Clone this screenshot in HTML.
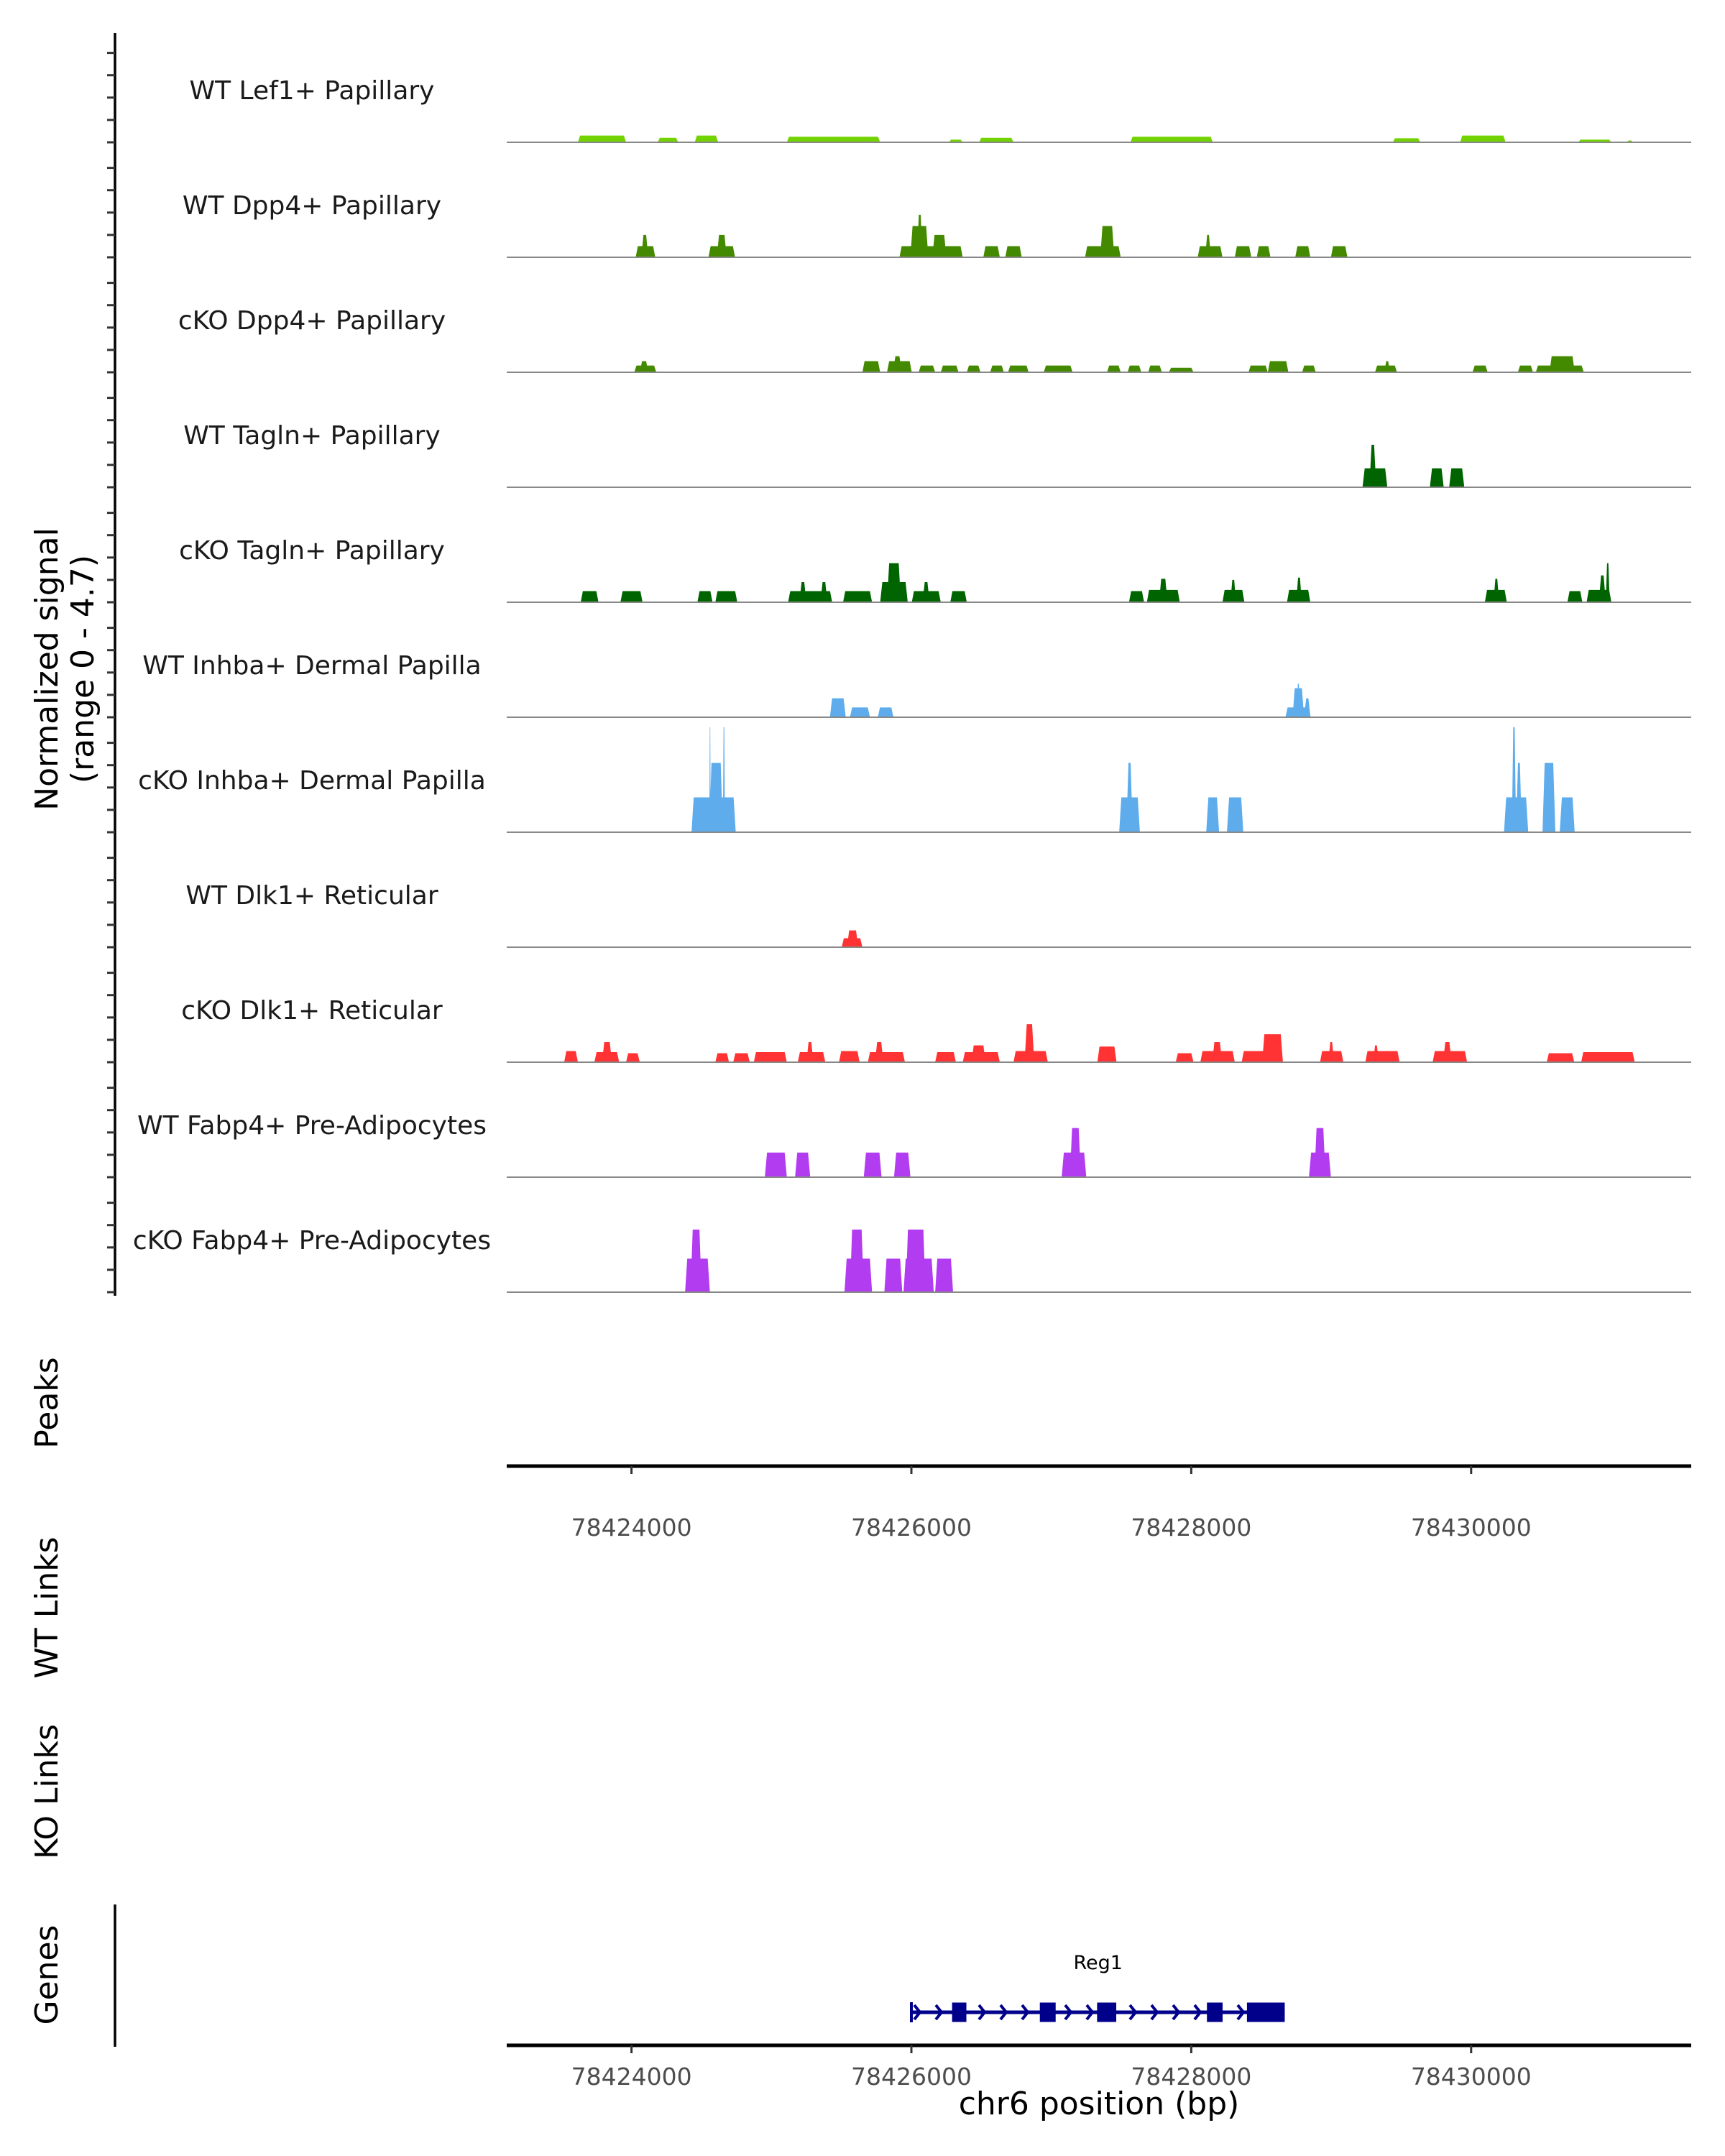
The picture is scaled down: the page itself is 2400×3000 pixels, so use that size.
<!DOCTYPE html>
<html><head><meta charset="utf-8">
<style>
html,body{margin:0;padding:0;background:#fff;}
svg{display:block;font-family:"DejaVu Sans","Liberation Sans",sans-serif;}
</style></head>
<body>
<svg id="chart" width="2400" height="3000" viewBox="0 0 2400 3000" xmlns="http://www.w3.org/2000/svg">
<g id="axes"></g>
<g id="tracks"></g>
<g id="genes"></g>
</svg>
<script>
// ---- data ----
const trackNames = ["WT Lef1+ Papillary","WT Dpp4+ Papillary","cKO Dpp4+ Papillary","WT Tagln+ Papillary","cKO Tagln+ Papillary","WT Inhba+ Dermal Papilla","cKO Inhba+ Dermal Papilla","WT Dlk1+ Reticular","cKO Dlk1+ Reticular","WT Fabp4+ Pre-Adipocytes","cKO Fabp4+ Pre-Adipocytes"];
const trackColors = ["#72d300","#448a00","#448a00","#006400","#006400","#5eacec","#5eacec","#ff3333","#ff3333","#b23cf0","#b23cf0"];
const wtLef1 = [[78423617,78423961,.3],[78424187,78424334,.2],[78424452,78424619,.3],[78425110,78425777,.25],[78426268,78426367,.12],[78426484,78426730,.2],[78427565,78428154,.25],[78429440,78429637,.18],[78429921,78430246,.3],[78430766,78431002,.12],[78431110,78431159,.08]];
const wtDpp4 = [[78424030,78424170,.5],[78424070,78424120,1.0],[78424550,78424740,.5],[78424610,78424680,1.0],[78425915,78426367,.5],[78425993,78426121,1.4],[78426040,78426080,1.9],[78426150,78426250,1.0],[78426514,78426632,.5],[78426671,78426789,.5],[78427241,78427496,.5],[78427350,78427450,1.4],[78428046,78428223,.5],[78428100,78428140,1.0],[78428311,78428429,.5],[78428468,78428566,.5],[78428743,78428851,.5],[78428998,78429116,.5]];
const ckoDpp4 = [[78424020,78424177,.3],[78424060,78424120,.5],[78425650,78425777,.5],[78425826,78426003,.5],[78425870,78425930,.72],[78426052,78426170,.3],[78426210,78426337,.3],[78426396,78426494,.3],[78426563,78426661,.3],[78426691,78426838,.3],[78426946,78427152,.3],[78427398,78427496,.3],[78427545,78427643,.3],[78427692,78427790,.3],[78427840,78428016,.2],[78428409,78428547,.3],[78428547,78428694,.5],[78428792,78428890,.3],[78429313,78429470,.3],[78429380,78429420,.5],[78430010,78430118,.3],[78430334,78430442,.3],[78430462,78430805,.3],[78430560,78430740,.72]];
const wtTagln = [[78429224,78429401,.85],[78429273,78429322,1.9],[78429705,78429804,.85],[78429843,78429951,.85]];
const ckoTagln = [[78423637,78423764,.5],[78423921,78424079,.5],[78424471,78424579,.5],[78424599,78424756,.5],[78425119,78425434,.5],[78425200,78425250,.9],[78425350,78425400,.9],[78425512,78425719,.5],[78425777,78425974,.9],[78425826,78425925,1.75],[78426003,78426210,.5],[78426080,78426130,.9],[78426278,78426396,.5],[78427555,78427663,.5],[78427683,78427918,.55],[78427770,78427830,1.05],[78428223,78428380,.55],[78428280,78428320,1.0],[78428684,78428851,.55],[78428750,78428790,1.1],[78430098,78430255,.55],[78430160,78430200,1.05],[78430688,78430795,.5],[78430825,78431002,.55],[78430913,78430962,1.2],[78430962,78430990,1.75]];
const wtInhba = [[78425418,78425531,.85],[78425561,78425704,.44],[78425760,78425872,.44],[78428673,78428852,.44],[78428724,78428806,1.3],[78428755,78428775,1.5],[78428806,78428852,.85]];
const ckoInhba = [[78424429,78424745,1.56],[78424556,78424653,3.1],[78424556,78424566,4.7],[78424653,78424668,4.7],[78427485,78427633,1.56],[78427536,78427582,3.1],[78428107,78428199,1.56],[78428255,78428372,1.56],[78430235,78430408,1.56],[78430291,78430321,4.7],[78430321,78430362,3.1],[78430510,78430602,3.1],[78430633,78430740,1.56]];
const wtDlk1 = [[78425502,78425650,.4],[78425540,78425620,.75]];
const ckoDlk1 = [[78423519,78423617,.5],[78423735,78423912,.45],[78423790,78423860,.9],[78423961,78424059,.4],[78424599,78424697,.4],[78424727,78424845,.4],[78424874,78425110,.45],[78425188,78425385,.45],[78425250,78425300,.9],[78425483,78425630,.5],[78425689,78425954,.45],[78425740,78425800,.9],[78426170,78426318,.45],[78426367,78426632,.45],[78426430,78426530,.75],[78426730,78426975,.5],[78426809,78426878,1.7],[78427329,78427466,.7],[78427889,78428016,.4],[78428065,78428311,.5],[78428150,78428220,.9],[78428360,78428655,.5],[78428507,78428655,1.25],[78428920,78429087,.5],[78428980,78429020,.9],[78429244,78429489,.5],[78429300,78429340,.75],[78429725,78429971,.5],[78429800,78429860,.9],[78430540,78430737,.4],[78430786,78431169,.45]];
const wtFabp4 = [[78424953,78425110,1.1],[78425169,78425277,1.1],[78425660,78425787,1.1],[78425876,78425993,1.1],[78427074,78427250,1.1],[78427133,78427211,2.2],[78428841,78428998,1.1],[78428880,78428959,2.2]];
const ckoFabp4 = [[78424383,78424560,1.5],[78424422,78424501,2.8],[78425522,78425719,1.5],[78425561,78425660,2.8],[78425807,78425935,1.5],[78425944,78426160,1.5],[78425960,78426101,2.8],[78426170,78426298,1.5]];
const trackData = [wtLef1,wtDpp4,ckoDpp4,wtTagln,ckoTagln,wtInhba,ckoInhba,wtDlk1,ckoDlk1,wtFabp4,ckoFabp4];
const xTicks = [78424000,78426000,78428000,78430000];
const geneName = "Reg1";
const geneStart = 78426000, geneEnd = 78428668;
const exonStarts = [78426291,78426918,78427327,78428112,78428398];
const exonEnds   = [78426393,78427031,78427464,78428224,78428668];

// ---- scales ----
const X0 = 705, X1 = 2353;
function xScale(v){ return 1268 + (v - 78426000) * 0.1947; }
function baseY(i){ return 198 + i * 160; }
function yScale(i, v){ return baseY(i) - v * 31.1; }

const NS = "http://www.w3.org/2000/svg";
function mk(tag, attrs, parent){ const e = document.createElementNS(NS, tag); for (const k in attrs) e.setAttribute(k, attrs[k]); parent.appendChild(e); return e; }
const axes = document.getElementById('axes');
const tracks = document.getElementById('tracks');
const genes = document.getElementById('genes');

let l = mk('line', {x1:160,y1:46,x2:160,y2:1803,stroke:'#000','stroke-width':3.5}, axes);


for (let i = 0; i < 11; i++) {
  for (let k = 0; k < 5; k++) {
    const y = yScale(i, k);
    const t = mk('line', {x1:149,y1:y,x2:160,y2:y,stroke:'#333','stroke-width':3}, axes);
    
    
  }
}
function rotText(txt, x, y, name, size){
  const t = mk('text', {x:x,y:y,'font-size':size||44,'text-anchor':'middle',transform:`rotate(-90 ${x} ${y})`,fill:'#000'}, axes);
  t.textContent = txt;
  
  
}
rotText('Normalized signal', 80, 931, 'y-axis-title');
rotText('(range 0 - 4.7)', 130, 931, 'y-axis-subtitle');
rotText('Peaks', 80, 1952, 'peaks-track-title');
rotText('WT Links', 80, 2237, 'wt-links-track-title');
rotText('KO Links', 80, 2493, 'ko-links-track-title');
rotText('Genes', 80, 2748, 'genes-track-title');

for (let i = 0; i < trackData.length; i++) {
  const g = mk('g', {}, tracks);
  
  
  const lab = mk('text', {x:434,y:baseY(i)-60,'font-size':36,'text-anchor':'middle',fill:'#1a1a1a'}, g);
  lab.textContent = trackNames[i];
  
  
  for (const seg of trackData[i]) {
    const xa = xScale(seg[0]), xb = xScale(seg[1]);
    const yb = baseY(i), yt = yScale(i, seg[2]);
    const s = Math.min(3, (xb - xa) / 3);
    const p = mk('polygon', {points:`${xa},${yb} ${xa+s},${yt} ${xb-s},${yt} ${xb},${yb}`, fill:trackColors[i]}, g);
    
    
  }
  const bl = mk('line', {x1:X0,y1:baseY(i),x2:X1,y2:baseY(i),stroke:'#888','stroke-width':2}, g);
  
  
}

function xAxis(y, name, labelY){
  const a = mk('line', {x1:X0,y1:y,x2:X1,y2:y,stroke:'#000','stroke-width':5}, axes);
  
  
  for (const v of xTicks) {
    const x = xScale(v);
    const t = mk('line', {x1:x,y1:y,x2:x,y2:y+11,stroke:'#333','stroke-width':3}, axes);
    
    
    const tl = mk('text', {x:x,y:labelY,'font-size':33,'text-anchor':'middle',fill:'#4d4d4d'}, axes);
    tl.textContent = String(v);
    
    
  }
}
xAxis(2040, 'peaks-x-axis', 2137);
xAxis(2846, 'genes-x-axis', 2901);
const xt = mk('text', {x:1529,y:2942,'font-size':44,'text-anchor':'middle',fill:'#000'}, axes);
xt.textContent = 'chr6 position (bp)';


const gl = mk('line', {x1:160,y1:2650,x2:160,y2:2848,stroke:'#000','stroke-width':3.5}, axes);



const gy = 2800, gc = '#00008b';
const gline = mk('line', {x1:xScale(geneStart),y1:gy,x2:xScale(geneEnd),y2:gy,stroke:gc,'stroke-width':5}, genes);


const st = mk('line', {x1:xScale(geneStart),y1:gy-14,x2:xScale(geneStart),y2:gy+14,stroke:gc,'stroke-width':4}, genes);


for (let x = xScale(geneStart) + 4; x < xScale(geneEnd) - 10; x += 30) {
  const c = mk('polyline', {points:`${x},${gy-10} ${x+8},${gy} ${x},${gy+10}`,fill:'none',stroke:gc,'stroke-width':4}, genes);
  
  
}
for (let k = 0; k < exonStarts.length; k++) {
  const xa = xScale(exonStarts[k]), xb = xScale(exonEnds[k]);
  const r = mk('rect', {x:xa,y:gy-13.5,width:xb-xa,height:27,fill:gc}, genes);
  
  
}
const gn = mk('text', {x:(xScale(geneStart)+xScale(geneEnd))/2,y:2740,'font-size':27,'text-anchor':'middle',fill:'#000'}, genes);
gn.textContent = geneName;


</script>
</body></html>
